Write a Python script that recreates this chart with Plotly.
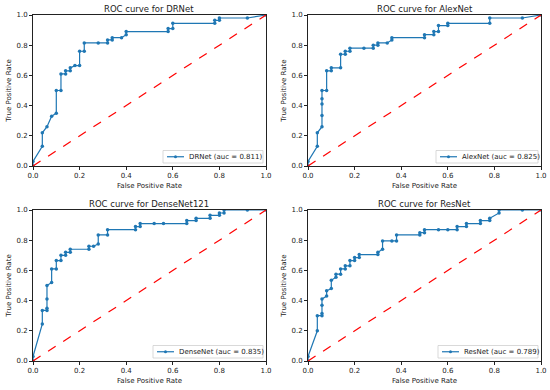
import plotly.graph_objects as go

# ---------------- data ----------------
titles = ["ROC curve for DRNet", "ROC curve for AlexNet",
          "ROC curve for DenseNet121", "ROC curve for ResNet"]
legend_names = ["DRNet (auc = 0.811)", "AlexNet (auc = 0.825)",
                "DenseNet (auc = 0.835)", "ResNet (auc = 0.789)"]

drnet_fpr = [0, 0, 0.04, 0.04, 0.06, 0.08, 0.10, 0.10, 0.12, 0.12, 0.14, 0.14, 0.16, 0.16,
             0.18, 0.20, 0.20, 0.22, 0.22, 0.28, 0.32, 0.32, 0.34, 0.34, 0.38, 0.40, 0.40,
             0.58, 0.58, 0.60, 0.60, 0.78, 0.78, 0.80, 0.80, 0.92, 1.0]
drnet_tpr = [0, 0.03, 0.13, 0.22, 0.26, 0.33, 0.35, 0.50, 0.50, 0.61, 0.61, 0.63, 0.63, 0.65,
             0.665, 0.665, 0.76, 0.76, 0.815, 0.815, 0.815, 0.835, 0.835, 0.85, 0.85, 0.87, 0.89,
             0.89, 0.91, 0.91, 0.945, 0.945, 0.965, 0.965, 0.98, 0.98, 1.0]

alex_fpr = [0, 0, 0.04, 0.04, 0.06, 0.06, 0.06, 0.06, 0.06, 0.08, 0.08, 0.10, 0.10, 0.14,
            0.14, 0.16, 0.16, 0.18, 0.18, 0.24, 0.28, 0.28, 0.30, 0.30, 0.34, 0.36, 0.36,
            0.50, 0.50, 0.54, 0.54, 0.56, 0.56, 0.60, 0.60, 0.78, 0.78, 0.92, 1.0]
alex_tpr = [0, 0.03, 0.13, 0.22, 0.26, 0.335, 0.41, 0.445, 0.50, 0.50, 0.63, 0.63, 0.65, 0.65,
            0.74, 0.74, 0.76, 0.76, 0.78, 0.78, 0.78, 0.80, 0.80, 0.815, 0.815, 0.835, 0.85,
            0.85, 0.87, 0.87, 0.89, 0.89, 0.93, 0.93, 0.945, 0.945, 0.98, 0.98, 1.0]

dense_fpr = [0, 0, 0.04, 0.04, 0.06, 0.06, 0.06, 0.06, 0.08, 0.08, 0.10, 0.10, 0.12, 0.12,
             0.14, 0.14, 0.16, 0.16, 0.24, 0.24, 0.26, 0.28, 0.28, 0.32, 0.32, 0.44, 0.44,
             0.46, 0.46, 0.52, 0.56, 0.66, 0.66, 0.70, 0.70, 0.76, 0.76, 0.80, 0.80, 0.82,
             0.82, 0.92, 1.0]
dense_tpr = [0, 0.03, 0.245, 0.335, 0.335, 0.35, 0.41, 0.50, 0.52, 0.61, 0.61, 0.665, 0.665,
             0.70, 0.70, 0.72, 0.72, 0.74, 0.74, 0.76, 0.76, 0.775, 0.835, 0.835, 0.87, 0.87,
             0.89, 0.89, 0.91, 0.91, 0.91, 0.91, 0.93, 0.93, 0.945, 0.945, 0.965, 0.965, 0.98,
             0.98, 1.0, 1.0, 1.0]

res_fpr = [0, 0, 0.04, 0.04, 0.06, 0.06, 0.06, 0.06, 0.08, 0.08, 0.10, 0.10, 0.12, 0.12,
           0.14, 0.14, 0.16, 0.16, 0.18, 0.18, 0.20, 0.20, 0.22, 0.22, 0.30, 0.30, 0.32,
           0.32, 0.36, 0.38, 0.38, 0.48, 0.48, 0.50, 0.50, 0.56, 0.60, 0.64, 0.64, 0.68,
           0.68, 0.74, 0.74, 0.78, 0.78, 0.82, 0.82, 0.92, 1.0]
res_tpr = [0, 0.03, 0.20, 0.30, 0.30, 0.315, 0.37, 0.41, 0.43, 0.465, 0.48, 0.535, 0.555,
           0.575, 0.575, 0.61, 0.61, 0.63, 0.63, 0.665, 0.665, 0.685, 0.685, 0.705, 0.705,
           0.72, 0.74, 0.795, 0.795, 0.795, 0.835, 0.835, 0.85, 0.85, 0.87, 0.87, 0.87, 0.87,
           0.89, 0.89, 0.91, 0.91, 0.93, 0.93, 0.945, 0.98, 1.0, 1.0, 1.0]

diag = [0, 1]
tick_vals = [0, 0.2, 0.4, 0.6, 0.8, 1.0]
tick_text = ["0.0", "0.2", "0.4", "0.6", "0.8", "1.0"]

series = [(drnet_fpr, drnet_tpr), (alex_fpr, alex_tpr),
          (dense_fpr, dense_tpr), (res_fpr, res_tpr)]

# ---------------- layout ----------------
W, H = 550, 390
FONT = "DejaVu Sans"
BLUE = "#1f77b4"
xpx = [(33, 266), (308, 541)]      # plot-area pixel extents per column
ypx = [(15, 166), (210, 361)]      # plot-area pixel extents per row (top, bottom)
legend_w = [100, 102, 110, 100]    # legend box widths in px
cells = [(0, 0), (1, 0), (0, 1), (1, 1)]  # (col,row)

def px_x(p):
    return p / W

def px_y(p):
    return 1 - p / H

fig = go.Figure()
shapes, annotations = [], []
layout = dict(width=W, height=H,
              margin=dict(l=0, r=0, t=0, b=0, pad=0, autoexpand=False),
              paper_bgcolor="white", plot_bgcolor="white", showlegend=False,
              font=dict(family=FONT, size=7, color="#222"))

for i, ((fpr, tpr), (c, r)) in enumerate(zip(series, cells)):
    n = "" if i == 0 else str(i + 1)
    fig.add_trace(go.Scatter(x=fpr, y=tpr, mode="lines+markers", name=legend_names[i],
                             xaxis="x" + n, yaxis="y" + n,
                             line=dict(color=BLUE, width=1.2),
                             marker=dict(color=BLUE, size=3.5)))
    fig.add_trace(go.Scatter(x=diag, y=diag, mode="lines", showlegend=False,
                             xaxis="x" + n, yaxis="y" + n,
                             line=dict(color="red", width=1.2, dash="dash")))
    x0, x1 = xpx[c]
    y0, y1 = ypx[r]
    ax = dict(range=[0, 1], showgrid=False, zeroline=False, showline=True, mirror=True,
              linecolor="#222", linewidth=0.8, ticks="outside", ticklen=3, tickwidth=0.8,
              tickcolor="#222", tickvals=tick_vals, ticktext=tick_text, automargin=False,
              tickfont=dict(size=7, family=FONT, color="#222"))
    layout["xaxis" + n] = dict(ax, domain=[px_x(x0), px_x(x1)], anchor="y" + n,
                               title=dict(text="False Positive Rate", standoff=3,
                                          font=dict(size=7, family=FONT, color="#222")))
    layout["yaxis" + n] = dict(ax, domain=[px_y(y1), px_y(y0)], anchor="x" + n,
                               title=dict(text="True Positive Rate", standoff=4,
                                          font=dict(size=7, family=FONT, color="#222")))
    # title
    annotations.append(dict(text=titles[i], x=px_x((x0 + x1) / 2), y=px_y(y0 - 6),
                            xref="paper", yref="paper", xanchor="center", yanchor="middle",
                            showarrow=False, font=dict(size=8.5, family=FONT, color="#222")))
    # legend box (lower right)
    bx1, by1 = x1 - 3, y1 - 3
    bx0, by0 = bx1 - legend_w[i], by1 - 12.5
    cy = (by0 + by1) / 2
    shapes.append(dict(type="rect", xref="paper", yref="paper", layer="above",
                       x0=px_x(bx0), x1=px_x(bx1), y0=px_y(by1), y1=px_y(by0),
                       fillcolor="rgba(255,255,255,0.85)", line=dict(color="#cfcfcf", width=0.8)))
    shapes.append(dict(type="line", xref="paper", yref="paper", layer="above",
                       x0=px_x(bx0 + 4), x1=px_x(bx0 + 21), y0=px_y(cy), y1=px_y(cy),
                       line=dict(color=BLUE, width=1.2)))
    shapes.append(dict(type="circle", xref="paper", yref="paper", layer="above",
                       x0=px_x(bx0 + 11), x1=px_x(bx0 + 14), y0=px_y(cy + 1.5), y1=px_y(cy - 1.5),
                       fillcolor=BLUE, line=dict(color=BLUE, width=0)))
    annotations.append(dict(text=legend_names[i], x=px_x(bx0 + 24), y=px_y(cy),
                            xref="paper", yref="paper", xanchor="left", yanchor="middle",
                            showarrow=False, font=dict(size=7, family=FONT, color="#222")))

layout["shapes"] = shapes
layout["annotations"] = annotations
fig.update_layout(**layout)
fig.write_html("out.html", config={"displayModeBar": False},
               post_script="document.body.style.margin='0';"
                           "document.body.style.overflow='hidden';")
